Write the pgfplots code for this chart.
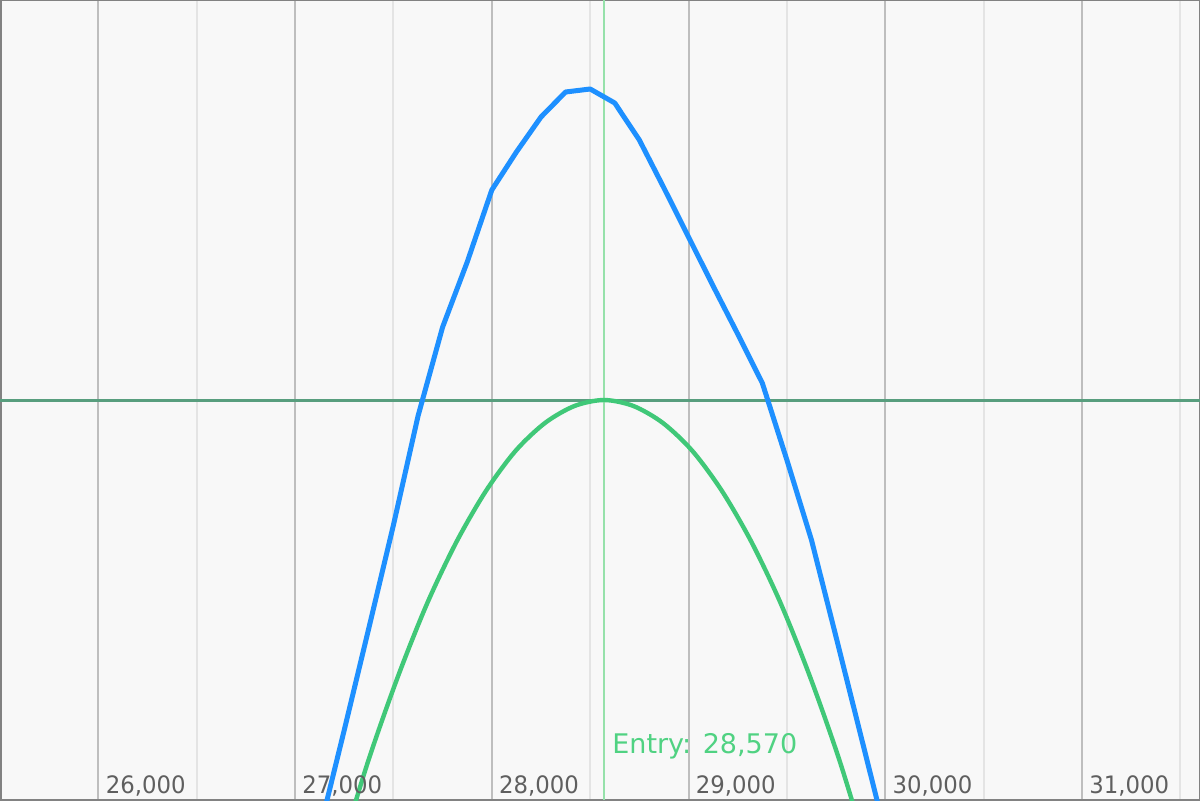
\documentclass[border=0pt]{standalone}
\usepackage{fontspec}
\setmainfont{DejaVu Sans}
\newfontfamily\tickfont{DejaVu Sans}[FakeStretch=0.95]
\usepackage{pgfplots}
\pgfplotsset{compat=1.18}
\definecolor{bgc}{RGB}{248,248,248}
\definecolor{borderc}{RGB}{130,130,130}
\definecolor{majgrid}{RGB}{190,190,190}
\definecolor{mingrid}{RGB}{228,228,228}
\definecolor{zeroline}{RGB}{88,158,126}
\definecolor{entryline}{RGB}{150,225,170}
\definecolor{entrytext}{RGB}{80,210,130}
\definecolor{bluec}{RGB}{30,144,255}
\definecolor{greenc}{RGB}{64,200,120}
\definecolor{tickc}{RGB}{95,95,95}
\begin{document}
\begin{tikzpicture}
\begin{axis}[
  width=600pt, height=400pt, scale only axis,
  xmin=25500, xmax=31600, ymin=-400, ymax=400,
  axis background/.style={fill=bgc},
  axis line style={draw=borderc, line width=1.5pt},
  xtick={26000,27000,...,31000},
  minor xtick={26500,27500,...,31500},
  xmajorgrids, xminorgrids,
  major grid style={draw=majgrid, line width=1pt},
  minor grid style={draw=mingrid, line width=1pt},
  ytick=\empty,
  xticklabels={},
  major tick length=0pt, minor tick length=0pt,
  line join=round,
]
\addplot[draw=zeroline, line width=1.5pt] coordinates {(25500,0) (31600,0)};
\addplot[draw=entryline, line width=1pt] coordinates {(28570,-400) (28570,400)};
\addplot[draw=greenc, line width=2.2pt, smooth] coordinates {
(27220,-459) (27370,-362) (27520,-278) (27670,-204) (27820,-142) (27970,-91)
(28120,-51) (28270,-23) (28420,-6) (28570,0) (28720,-6) (28870,-23)
(29020,-51) (29170,-91) (29320,-142) (29470,-204) (29620,-278) (29770,-362)
(29920,-459)};
\addplot[draw=bluec, line width=2.5pt] coordinates {
(27125,-430) (27250,-330) (27375,-228) (27500,-125) (27625,-16) (27750,73)
(27875,138) (28000,210) (28125,248) (28250,283) (28375,308) (28500,311)
(28625,297) (28750,260) (28875,212) (29000,163) (29125,114) (29250,66)
(29375,17) (29500,-60) (29625,-140) (29750,-237) (29875,-335) (30000,-433)};
\foreach \v/\t in {26000/{26,000},27000/{27,000},28000/{28,000},29000/{29,000},30000/{30,000},31000/{31,000}}{
  \edef\temp{\noexpand\node[anchor=base west, inner sep=0pt, xshift=3.5pt, yshift=3.5pt, text=tickc, font=\noexpand\tickfont\noexpand\fontsize{12pt}{14pt}\noexpand\selectfont] at (axis cs:\v,-400) {\t};}
  \temp
}
\node[anchor=base west, inner sep=0pt, xshift=4pt, yshift=23.5pt, text=entrytext, font=\fontsize{13.5pt}{16pt}\selectfont] at (axis cs:28570,-400) {Entry: 28,570};
\end{axis}
\pgfresetboundingbox
\path[use as bounding box] (current axis.south west) rectangle (current axis.north east);
\end{tikzpicture}
\end{document}
